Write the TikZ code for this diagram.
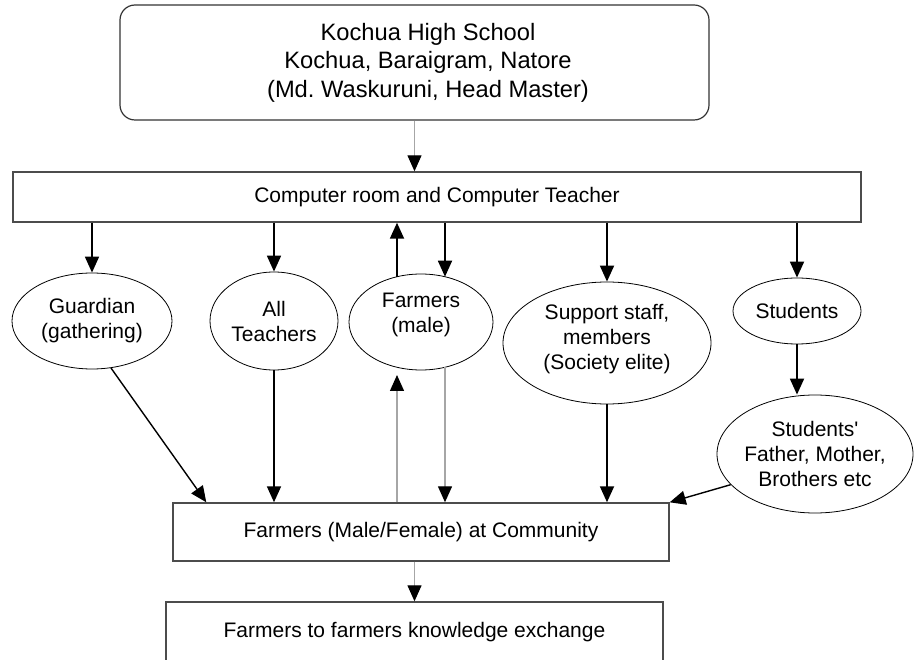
\documentclass[tikz,border=0pt]{standalone}
\usepackage{fontspec}
\setmainfont{Liberation Sans}
\usetikzlibrary{arrows.meta,calc,shapes.geometric}
\begin{document}
\begin{tikzpicture}[x=1pt,y=-1pt,
  topbox/.style={draw=black!80,line width=1.2pt,rounded corners=15pt,inner sep=0pt},
  toptext/.style={inner sep=0pt,align=center,font=\fontsize{23.7}{28.5}\selectfont},
  box/.style={draw=black!70,line width=1.4pt,inner sep=0pt,align=center,font=\fontsize{21}{25}\selectfont},
  ell/.style={draw=black,line width=0.8pt,ellipse,inner sep=0pt,align=center,font=\fontsize{21}{25}\selectfont},
  blk/.style={line width=1.8pt,-{Triangle[length=16pt,width=14pt]}},
  gry/.style={draw=black!35,line width=1.3pt,-{Triangle[length=16pt,width=14pt,color=black]}}
]
\useasboundingbox (0,0) rectangle (919,660);
\clip (0,0) rectangle (919,660);

\node[topbox, minimum width=589pt, minimum height=115pt] (school) at (414.5,62.5) {};
\node[toptext] (schooltext) at (428,62.5)
  {Kochua High School\\Kochua, Baraigram, Natore\\(Md.\ Waskuruni, Head Master)};
\node[box, minimum width=848pt, minimum height=50pt] (comp) at (437,197)
  {Computer room and Computer Teacher};

\node[ell, minimum width=160pt, minimum height=96pt] (guard) at (92,321) {Guardian\\(gathering)};
\node[ell, minimum width=128pt, minimum height=98pt] (teach) at (274,321) {All\\Teachers};
\node[ell, minimum width=144pt, minimum height=96pt] (farm) at (421,322) {Farmers\\(male)\\[-7pt]};
\node[ell, minimum width=208pt, minimum height=122pt] (staff) at (607,343) {Support staff,\\members\\(Society elite)\\[-12pt]};
\node[ell, minimum width=128pt, minimum height=66pt] (stud) at (797,311) {Students};
\node[ell, minimum width=196pt, minimum height=118pt, inner xsep=-6pt] (par) at (815,454) {Students\textquotesingle\\Father, Mother,\\Brothers etc};

\node[box, minimum width=496pt, minimum height=58pt] (comm) at (421,532) {Farmers (Male/Female) at Community};
\node[box, minimum width=497pt, minimum height=60pt] (exch) at (414.5,632) {Farmers to farmers knowledge exchange};

\coordinate (fU) at ($(farm)+(-24,-45.3)$);
\coordinate (fD) at ($(farm)+(24,-45.3)$);
\coordinate (fUb) at ($(farm)+(-24,53)$);
\coordinate (fDb) at ($(farm)+(24,45.3)$);
\coordinate (gT) at ($(comm.north west)+(34,0)$);

\draw[gry] (school.south) -- (school.south |- comp.north);
\draw[blk] (comp.south -| guard) -- (guard);
\draw[blk] (comp.south -| teach) -- (teach);
\draw[blk] (fU) -- (fU |- comp.south);
\draw[blk] (comp.south -| fD) -- (fD);
\draw[blk] (comp.south -| staff) -- (staff);
\draw[blk] (comp.south -| stud) -- (stud);
\draw[blk] (stud.south) -- (stud.south |- par.north);

\draw[blk,line width=1.4pt] (guard.-68) -- (gT);
\draw[blk] (teach.south) -- (teach.south |- comm.north);
\draw[gry] (fUb |- comm.north) -- (fUb);
\draw[gry] (fDb) -- (fDb |- comm.north);
\draw[blk] (staff.south) -- (staff.south |- comm.north);
\draw[blk,line width=1.4pt] (par.200) -- (comm.north east);
\draw[gry] (exch.north |- comm.south) -- (exch.north);
\end{tikzpicture}
\end{document}
